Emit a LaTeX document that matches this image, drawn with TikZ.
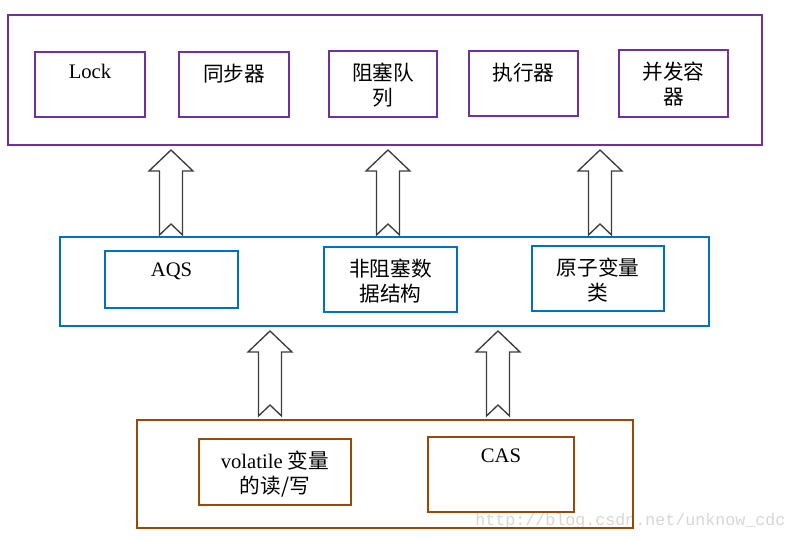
\documentclass[tikz,border=0pt]{standalone}
\usepackage{fontspec}
\setmainfont{Liberation Serif}
\newfontfamily\cjk{Noto Sans CJK SC}
\newfontfamily\wmfont{Liberation Mono}
\usetikzlibrary{calc}
\definecolor{layerpurple}{RGB}{112,48,160}
\definecolor{layerblue}{RGB}{0,112,192}
\definecolor{layerbrown}{RGB}{152,72,7}
\definecolor{arrowgray}{RGB}{60,60,60}
\definecolor{wmgray}{RGB}{214,214,214}
\tikzset{
    layer/.style={draw=#1, line width=1.5pt, anchor=north west, inner sep=0pt},
    boxsize/.style 2 args={minimum width=#1*0.75pt, minimum height=#2*0.75pt},
    txt/.style={anchor=north, inner sep=0pt, align=center, yshift=-13*0.75pt,
        font=\fontsize{15.5}{18.5}\selectfont},
    cjk/.style={txt, font=\fontsize{15.5}{18.5}\selectfont\cjk},
    watermark/.style={anchor=west, inner sep=0pt, text=wmgray,
        font=\fontsize{12.5}{15}\selectfont\wmfont},
    pics/uparrow/.style={code={
        \draw[arrowgray, fill=white, line width=1pt, line join=miter]
            (0,0) -- (22,21) -- (11.5,21) -- (11.5,85) -- (0,74)
            -- (-11.5,85) -- (-11.5,21) -- (-22,21) -- cycle;
    }}
}
\begin{document}
\begin{tikzpicture}[x=0.75pt, y=-0.75pt]
    \useasboundingbox (0,0) rectangle (796,541);
    \node[watermark] (wm) at (475,521) {http://blog.csdn.net/unknow\_cdc};

    \node[layer=layerpurple, boxsize={754}{130}] (toplayer) at (7,14) {};
    \node[layer=layerpurple, boxsize={110}{65}, label={[txt]north:Lock}] (lock) at (34,51) {};
    \node[layer=layerpurple, boxsize={110}{65}, label={[cjk]north:同步器}] (sync) at (178,51) {};
    \node[layer=layerpurple, boxsize={108}{66}, label={[cjk]north:阻塞队\\列}] (bqueue) at (328,50) {};
    \node[layer=layerpurple, boxsize={109}{65}, label={[cjk]north:执行器}] (executor) at (468,50) {};
    \node[layer=layerpurple, boxsize={109}{67}, label={[cjk]north:并发容\\器}] (ccoll) at (618,49) {};

    \node[layer=layerblue, boxsize={649}{89}] (midlayer) at (59,236) {};
    \node[layer=layerblue, boxsize={133}{57}, label={[txt]north:AQS}] (aqs) at (104,250) {};
    \node[layer=layerblue, boxsize={133}{65}, label={[cjk]north:非阻塞数\\据结构}] (nbds) at (323,246) {};
    \node[layer=layerblue, boxsize={132}{65}, label={[cjk]north:原子变量\\类}] (atomic) at (531,245) {};

    \node[layer=layerbrown, boxsize={496}{108}] (lowlayer) at (136,419) {};
    \node[layer=layerbrown, boxsize={152}{66},
        label={[txt]north:volatile {\cjk 变量}\\{\cjk 的读/写}}] (vol) at (198,438) {};
    \node[layer=layerbrown, boxsize={146}{75}, label={[txt]north:CAS}] (cas) at (427,436) {};

    \pic at ($(171,0 |- toplayer.south)+(0,4)$) {uparrow};
    \pic at ($(388,0 |- toplayer.south)+(0,4)$) {uparrow};
    \pic at ($(600,0 |- toplayer.south)+(0,4)$) {uparrow};
    \pic at ($(270,0 |- midlayer.south)+(0,4)$) {uparrow};
    \pic at ($(498,0 |- midlayer.south)+(0,4)$) {uparrow};
\end{tikzpicture}
\end{document}
